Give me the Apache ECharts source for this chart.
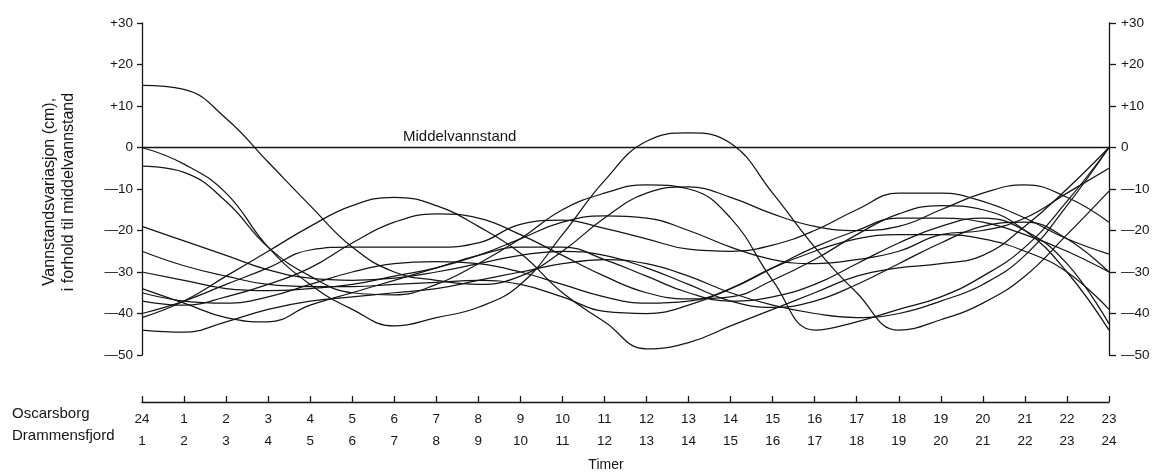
<!DOCTYPE html>
<html><head><meta charset="utf-8">
<script src="https://cdn.jsdelivr.net/npm/echarts@6/dist/echarts.min.js"></script>
<style>html,body{margin:0;padding:0;background:#fff}#c{width:1154px;height:476px}</style>
</head><body><div id="c"></div>
<script>
// tick labels
const oscarsborgHours = ['24','1','2','3','4','5','6','7','8','9','10','11','12','13','14','15','16','17','18','19','20','21','22','23'];
const drammensHours = ['1','2','3','4','5','6','7','8','9','10','11','12','13','14','15','16','17','18','19','20','21','22','23','24'];
const yTickLabels = {'30':'+30','20':'+20','10':'+10','0':'0','-10':'\u201410','-20':'\u201420','-30':'\u201430','-40':'\u201440','-50':'\u201450'};
// mean water level
const middel = [0,0,0,0,0,0,0,0,0,0,0,0,0,0,0,0,0,0,0,0,0,0,0,0];
// water level curves (cm), one per day, hourly
const curveA = [15,14,7,-3.5,-14,-24,-30,-32,-33,-31,-25,-17,-11,-9.5,-12,-16,-19,-20,-19,-15,-11,-9,-12,-18];
const curveB = [0,-4,-11,-24,-33,-39,-43,-41,-38.5,-33,-21,-8,1.5,3.5,1,-11,-24,-35,-44,-41.5,-37.5,-31,-21,-10.5];
const curveC = [-4.5,-6,-13,-24,-31,-35,-35.5,-33,-28,-22,-15,-11,-9,-10,-17,-32,-44,-42,-39,-36,-31,-24,-13,0];
const curveD = [-19,-22.5,-26,-29.5,-31.5,-32,-31.5,-30,-28,-26,-25,-26,-29,-33,-37,-38.5,-37,-33,-28,-23,-19,-18,-22,-30];
const curveE = [-25,-28.5,-31,-33,-33.5,-33.5,-33,-32.5,-32,-33,-36,-39.5,-40,-38,-34,-29,-25,-22,-21,-21,-22,-25,-30,-39];
const curveF = [-30,-32,-34,-34.5,-34,-33,-31,-29,-26,-22,-18,-16.5,-17,-20,-24,-27,-28,-27,-25,-21,-20,-17,-11,-5];
const curveG = [-34,-37.5,-41,-42,-38,-35,-32,-29,-26,-24,-24,-27,-31,-35,-37,-36,-33,-28,-23,-19,-17,-20,-28,-42.5];
const curveH = [-35,-37,-37.5,-36,-33,-30,-28,-27.5,-28,-30,-33,-36,-37.5,-37,-34,-29,-24,-20,-17,-17,-18,-21,-25,-30];
const curveM = [-37,-38,-36,-33,-29,-23,-18,-16,-17,-21,-26,-31,-35,-36.5,-36,-32,-27,-21,-16,-14,-15,-20,-30,-44];
const curveJ = [-40,-37,-33,-29,-24.7,-24,-24,-24,-23,-18.5,-17.5,-19.5,-22,-24.5,-25,-23.5,-20,-15,-11,-11,-13,-17,-22,-25.7];
const curveK = [-41,-37,-31,-25,-19,-14,-12,-14,-19,-25.5,-35,-42,-48.5,-47,-43,-39,-35,-31,-29,-28,-26,-19,-10,0];
const curveL = [-44,-44.5,-42,-39,-37,-36,-35,-34,-32,-30,-28,-27,-28,-31,-35,-38,-40,-41,-40,-37,-33,-26,-14,0];
const curves = [curveA,curveB,curveC,curveD,curveE,curveF,curveG,curveH,curveM,curveJ,curveK,curveL];

const font = 'Liberation Sans, Arial, sans-serif';
const ink = '#151515';
const chart = echarts.init(document.getElementById('c'));
const yLab = v => (yTickLabels[String(v)] !== undefined ? yTickLabels[String(v)] : '');
const series = curves.map(d => ({type:'line', data:d, smooth:0.45, symbol:'none',
  lineStyle:{color:ink, width:1.25}, silent:true, animation:false, z:3}));
series.push({type:'line', data:middel, symbol:'none', lineStyle:{color:ink, width:1.3}, animation:false, silent:true, z:2});
chart.setOption({
  animation:false,
  backgroundColor:'#fff',
  grid:{left:142, right:45, top:23, bottom:121},
  xAxis:[
    {type:'category', data:oscarsborgHours, boundaryGap:false, position:'bottom', offset:47,
     axisLine:{show:true, onZero:false, lineStyle:{color:ink, width:1.3}},
     axisTick:{show:true, inside:true, length:6, interval:0, lineStyle:{color:ink, width:1.3}},
     axisLabel:{color:ink, fontFamily:font, fontSize:13.5, margin:10, interval:0},
     splitLine:{show:false}},
    {type:'category', data:drammensHours, boundaryGap:false, position:'bottom', offset:47,
     axisLine:{show:false, onZero:false}, axisTick:{show:false},
     axisLabel:{color:ink, fontFamily:font, fontSize:13.5, margin:32, interval:0},
     splitLine:{show:false}}
  ],
  yAxis:[
    {type:'value', min:-50, max:30, interval:10, position:'left',
     axisLine:{show:true, onZero:false, lineStyle:{color:ink, width:1.3}},
     axisTick:{show:true, length:5, lineStyle:{color:ink, width:1.3}},
     axisLabel:{color:ink, fontFamily:font, fontSize:13.5, margin:9, formatter:yLab},
     splitLine:{show:false}},
    {type:'value', min:-50, max:30, interval:10, position:'right',
     axisLine:{show:true, onZero:false, lineStyle:{color:ink, width:1.3}},
     axisTick:{show:true, length:7, lineStyle:{color:ink, width:1.3}},
     axisLabel:{color:ink, fontFamily:font, fontSize:13.5, margin:12, formatter:yLab},
     splitLine:{show:false}}
  ],
  series:series,
  graphic:[
    {type:'text', x:403, y:137, style:{text:'Middelvannstand', font:'15px '+font, fill:ink, verticalAlign:'middle'}},
    {type:'text', x:12, y:414, style:{text:'Oscarsborg', font:'15px '+font, fill:ink, verticalAlign:'middle'}},
    {type:'text', x:12, y:436, style:{text:'Drammensfjord', font:'15px '+font, fill:ink, verticalAlign:'middle'}},
    {type:'text', x:606, y:465, style:{text:'Timer', font:'14px '+font, fill:ink, align:'center', verticalAlign:'middle'}},
    {type:'text', x:59.5, y:192, rotation:Math.PI/2, style:{text:'Vannstandsvariasjon (cm),\ni forhold til middelvannstand', font:'16px '+font, fill:ink, align:'center', verticalAlign:'middle', lineHeight:19}}
  ]
});
</script></body></html>
